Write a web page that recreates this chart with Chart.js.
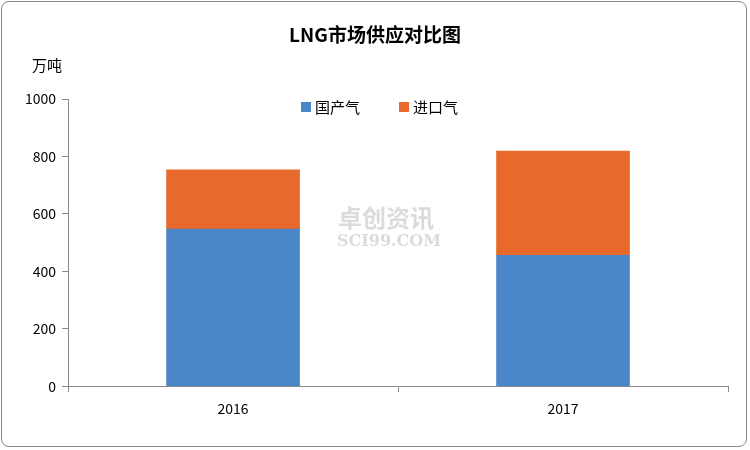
<!DOCTYPE html>
<html><head><meta charset="utf-8">
<script src="https://cdn.jsdelivr.net/npm/chart.js@4"></script>
<style>body{margin:0;background:#fff}#w{position:absolute;left:1px;top:1px;width:746px;height:446px;border:1px solid #888;border-radius:8px;box-sizing:border-box;overflow:hidden}</style>
</head><body><div id="w"><canvas id="c" width="744" height="444"></canvas></div>
<script>
const categories=['2016','2017'];
const domestic=[547,456];
const imported=[206,363];
const seriesNames=['国产气','进口气'];
const colors=['#4a86c8','#e7692b'];
const F='"Noto Sans CJK SC","Noto Sans",sans-serif';
const deco={id:'deco',afterDraw(ch){const x=ch.ctx;x.save();
x.fillStyle='#000';x.font='bold 19px '+F;x.textAlign='center';x.textBaseline='middle';x.fillText('LNG市场供应对比图',373,33);
x.font='15px '+F;x.fillText('万吨',45,63);
const items=[[299,seriesNames[0],colors[0]],[397,seriesNames[1],colors[1]]];
x.textAlign='left';
items.forEach(([lx,t,c])=>{x.fillStyle=c;x.fillRect(lx,100,10,10);x.fillStyle='#000';x.fillText(t,lx+14,105);});
x.globalAlpha=0.35;x.fillStyle='#999';x.font='bold 24px '+F;x.textAlign='center';x.fillText('卓创资讯',384,216);
x.font='bold 16px "DejaVu Serif",serif';x.fillText('SCI99.COM',387,240);
x.restore();}};
new Chart(document.getElementById('c'),{type:'bar',
data:{labels:categories,datasets:[
{label:seriesNames[0],data:domestic,backgroundColor:colors[0]},
{label:seriesNames[1],data:imported,backgroundColor:colors[1]}]},
options:{responsive:false,animation:false,devicePixelRatio:1,
layout:{padding:{top:97,left:17,right:18,bottom:21}},
plugins:{legend:{display:false},tooltip:{enabled:false}},
datasets:{bar:{barThickness:133}},
scales:{x:{stacked:true,
grid:{display:true,drawOnChartArea:false,offset:true,color:'#888',tickLength:6},border:{color:'#888'},
ticks:{color:'#000',font:{size:14,family:F},padding:8}},
y:{stacked:true,min:0,max:1000,ticks:{stepSize:200,color:'#000',font:{size:14,family:F},padding:6,callback:v=>String(v)},
grid:{drawOnChartArea:false,color:'#888',tickLength:6},border:{color:'#888'}}}},
plugins:[deco]});
</script>
</body></html>
